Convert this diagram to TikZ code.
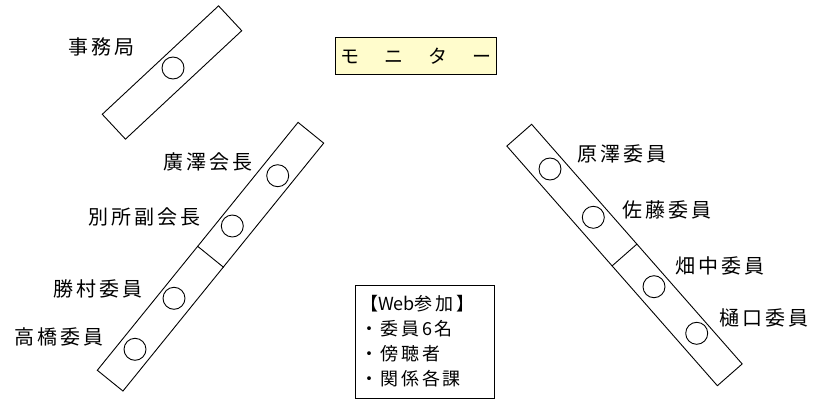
\documentclass[tikz,border=0pt]{standalone}
\usepackage{fontspec}
\newfontfamily\jp[LetterSpace=15]{Noto Sans CJK JP}
\newfontfamily\jpn{Noto Sans CJK JP}

\begin{document}
\begin{tikzpicture}[x=1pt, y=-1pt,
    mesa/.style={draw, line width=0.9pt, minimum height=33pt, inner sep=0pt},
    asiento/.style={circle, draw, line width=0.9pt, minimum size=22pt, inner sep=0pt},
    nombre/.style={font=\jp\fontsize{20}{24}\selectfont, inner sep=0pt}]
    \useasboundingbox (0,0) rectangle (813,401);

    % Mesas
    \node[mesa, minimum width=159pt, minimum height=34pt, rotate=43] (mesaA) at (172,72.5) {};
    \node[mesa, minimum width=319pt, rotate=51] (mesaB) at (210.5,256.7) {};
    \node[mesa, minimum width=319pt, rotate=-48.7] (mesaC) at (624.5,255) {};
    \draw[line width=0.9pt] (mesaB.north) -- (mesaB.south);
    \draw[line width=0.9pt] (mesaC.north) -- (mesaC.south);

    % Asientos
    \node[asiento] (s0) at (173,68) {};
    \node[asiento] (s1) at (277.7,175.7) {};
    \node[asiento] (s2) at (232.3,226) {};
    \node[asiento] (s3) at (174,298.3) {};
    \node[asiento] (s4) at (135,349.3) {};
    \node[asiento] (s5) at (550,169) {};
    \node[asiento] (s6) at (593.3,217.3) {};
    \node[asiento] (s7) at (654,286.7) {};
    \node[asiento] (s8) at (696.7,333.3) {};

    % Nombres
    \node[nombre] (n0) at (101.7,46.7) {事務局};
    \node[nombre] (n1) at (207.5,162.3) {廣澤会長};
    \node[nombre] (n2) at (144.5,217) {別所副会長};
    \node[nombre] (n3) at (97.5,289) {勝村委員};
    \node[nombre] (n4) at (59,336.7) {高橋委員};
    \node[nombre] (n5) at (622,154.3) {原澤委員};
    \node[nombre] (n6) at (667,210) {佐藤委員};
    \node[nombre] (n7) at (720,265.7) {畑中委員};
    \node[nombre] (n8) at (763.8,318.3) {樋口委員};

    % Monitor
    \node[draw, line width=0.9pt, fill=yellow!20, minimum width=161pt, minimum height=37pt,
          font=\jp\fontsize{19}{24}\selectfont] (monitor) at (416,55.8) {モ　ニ　タ　ー};

    % Web
    \node[draw, line width=0.9pt, align=left, inner xsep=5pt, text width=129pt, minimum height=113pt,
          font=\jp\fontsize{18}{25}\selectfont] (web) at (424.5,341.6)
          {【{\jpn Web}参加】\\・委員6名\\・傍聴者\\・関係各課};
\end{tikzpicture}
\end{document}
